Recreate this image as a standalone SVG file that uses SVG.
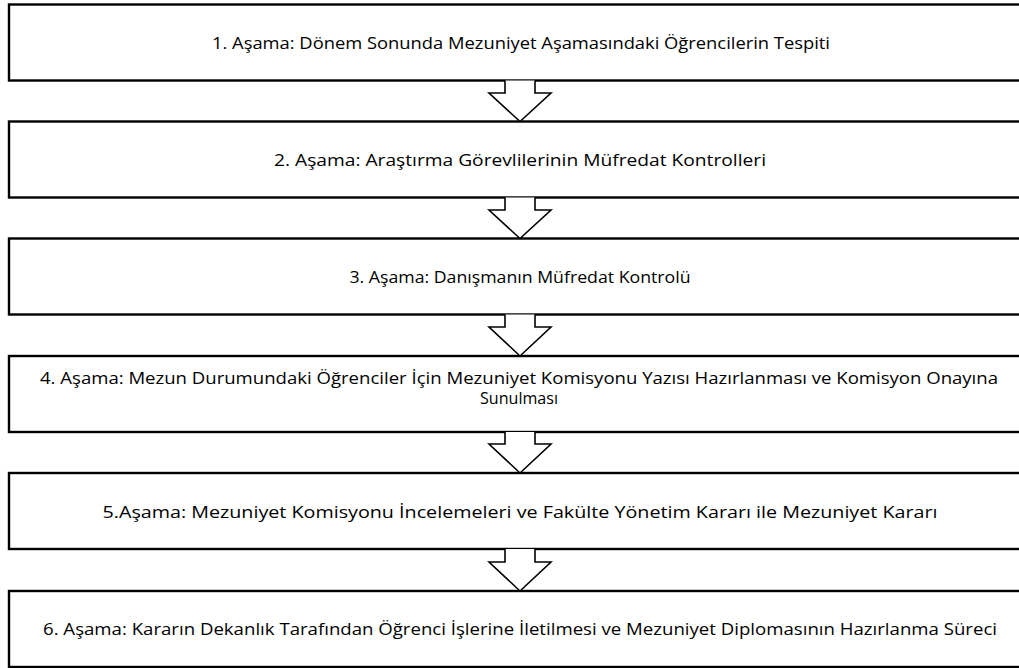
<svg xmlns="http://www.w3.org/2000/svg" width="1019" height="668" viewBox="0 0 1019 668">
<style>
.box{fill:#fff;stroke:#000;stroke-width:2.4}
.arr{fill:#fff;stroke:#000;stroke-width:1.6;stroke-linejoin:miter}
.t{font-family:"Open Sans","Liberation Sans",sans-serif;font-size:16px;fill:#000;text-anchor:middle}
</style>
<rect width="1019" height="668" fill="#fff"/>
<g id="node1"><rect class="box" x="9" y="4.5" width="1030" height="76"/><text class="t" x="521" y="49" textLength="618" lengthAdjust="spacingAndGlyphs">1. Aşama: Dönem Sonunda Mezuniyet Aşamasındaki Öğrencilerin Tespiti</text></g>
<g id="node2"><rect class="box" x="9" y="121.5" width="1030" height="76"/><text class="t" x="520" y="166" textLength="492" lengthAdjust="spacingAndGlyphs">2. Aşama: Araştırma Görevlilerinin Müfredat Kontrolleri</text></g>
<g id="node3"><rect class="box" x="9" y="238.5" width="1030" height="76"/><text class="t" x="520" y="283" textLength="341" lengthAdjust="spacingAndGlyphs">3. Aşama: Danışmanın Müfredat Kontrolü</text></g>
<g id="node4"><rect class="box" x="9" y="356" width="1030" height="76"/><text class="t" x="519" y="384" textLength="958" lengthAdjust="spacingAndGlyphs">4. Aşama: Mezun Durumundaki Öğrenciler İçin Mezuniyet Komisyonu Yazısı Hazırlanması ve Komisyon Onayına</text><text class="t" x="519" y="404" textLength="78" lengthAdjust="spacingAndGlyphs">Sunulması</text></g>
<g id="node5"><rect class="box" x="9" y="473" width="1030" height="76"/><text class="t" x="520" y="518" textLength="835" lengthAdjust="spacingAndGlyphs">5.Aşama: Mezuniyet Komisyonu İncelemeleri ve Fakülte Yönetim Kararı ile Mezuniyet Kararı</text></g>
<g id="node6"><rect class="box" x="9" y="591" width="1030" height="76"/><text class="t" x="520" y="635" textLength="954" lengthAdjust="spacingAndGlyphs">6. Aşama: Kararın Dekanlık Tarafından Öğrenci İşlerine İletilmesi ve Mezuniyet Diplomasının Hazırlanma Süreci</text></g>
<g id="connectors">
<polyline class="arr" points="505,80.5 505,93 489,93 520,121.5 551,93 535,93 535,80.5"/>
<polyline class="arr" points="505,197.5 505,210 489,210 520,238.5 551,210 535,210 535,197.5"/>
<polyline class="arr" points="505,314.5 505,327 489,327 520,356 551,327 535,327 535,314.5"/>
<polyline class="arr" points="505,432 505,444 489,444 520,473 551,444 535,444 535,432"/>
<polyline class="arr" points="505,549 505,562 489,562 520,591 551,562 535,562 535,549"/>
</g>
</svg>
